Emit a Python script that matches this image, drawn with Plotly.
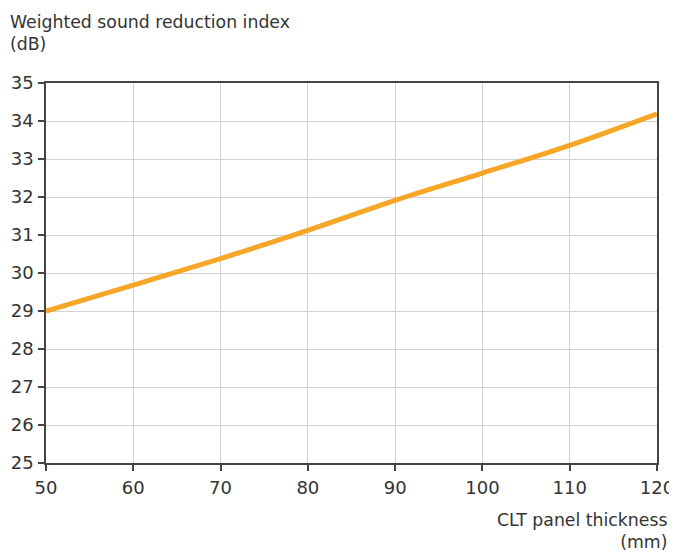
import plotly.graph_objects as go

thickness_mm = [50, 60, 70, 80, 90, 100, 110, 120]
rw_db = [29.0, 29.68, 30.38, 31.12, 31.91, 32.63, 33.36, 34.19]
x_ticks = [50, 60, 70, 80, 90, 100, 110, 120]
y_ticks = [25, 26, 27, 28, 29, 30, 31, 32, 33, 34, 35]

font_family = "DejaVu Sans, sans-serif"
text_color = "#333333"

fig = go.Figure()
fig.add_trace(go.Scatter(
    x=thickness_mm, y=rw_db, mode="lines",
    line=dict(color="#F8A628", width=5, shape="spline"),
    showlegend=False, hoverinfo="x+y",
))

axis_common = dict(
    showgrid=True, gridcolor="#d0d0d0", gridwidth=1.2,
    showline=True, linecolor="#444444", linewidth=1.6, mirror=True,
    ticks="outside", ticklen=6, tickwidth=1.5, tickcolor="#444444",
    tickfont=dict(family=font_family, size=18, color=text_color),
    zeroline=False, automargin=False,
)

fig.update_xaxes(range=[50, 120], tickvals=x_ticks, ticklabelstandoff=2, **axis_common)
fig.update_yaxes(range=[25, 35], tickvals=y_ticks, ticklabelstandoff=1, **axis_common)

W, H = 669, 546
L, T, PW, PH = 38, 75, 611, 380
fig.update_layout(
    width=W, height=H,
    margin=dict(l=L, r=W - L - PW, t=T, b=H - T - PH),
    paper_bgcolor="white", plot_bgcolor="white",
    font=dict(family=font_family, color=text_color),
    annotations=[
        dict(text="Weighted sound reduction index<br>(dB)", xref="paper", yref="paper",
             x=-L / PW, y=1 + (T - 2) / PH, xanchor="left", yanchor="top", align="left",
             showarrow=False, font=dict(size=17.3, family=font_family, color=text_color)),
        dict(text="CLT panel thickness<br>(mm)", xref="paper", yref="paper",
             x=(669 - 46) / PW, y=-45 / PH, xanchor="right", yanchor="top", align="right",
             showarrow=False, font=dict(size=17.3, family=font_family, color=text_color)),
    ],
)

fig.write_html("out.html")
